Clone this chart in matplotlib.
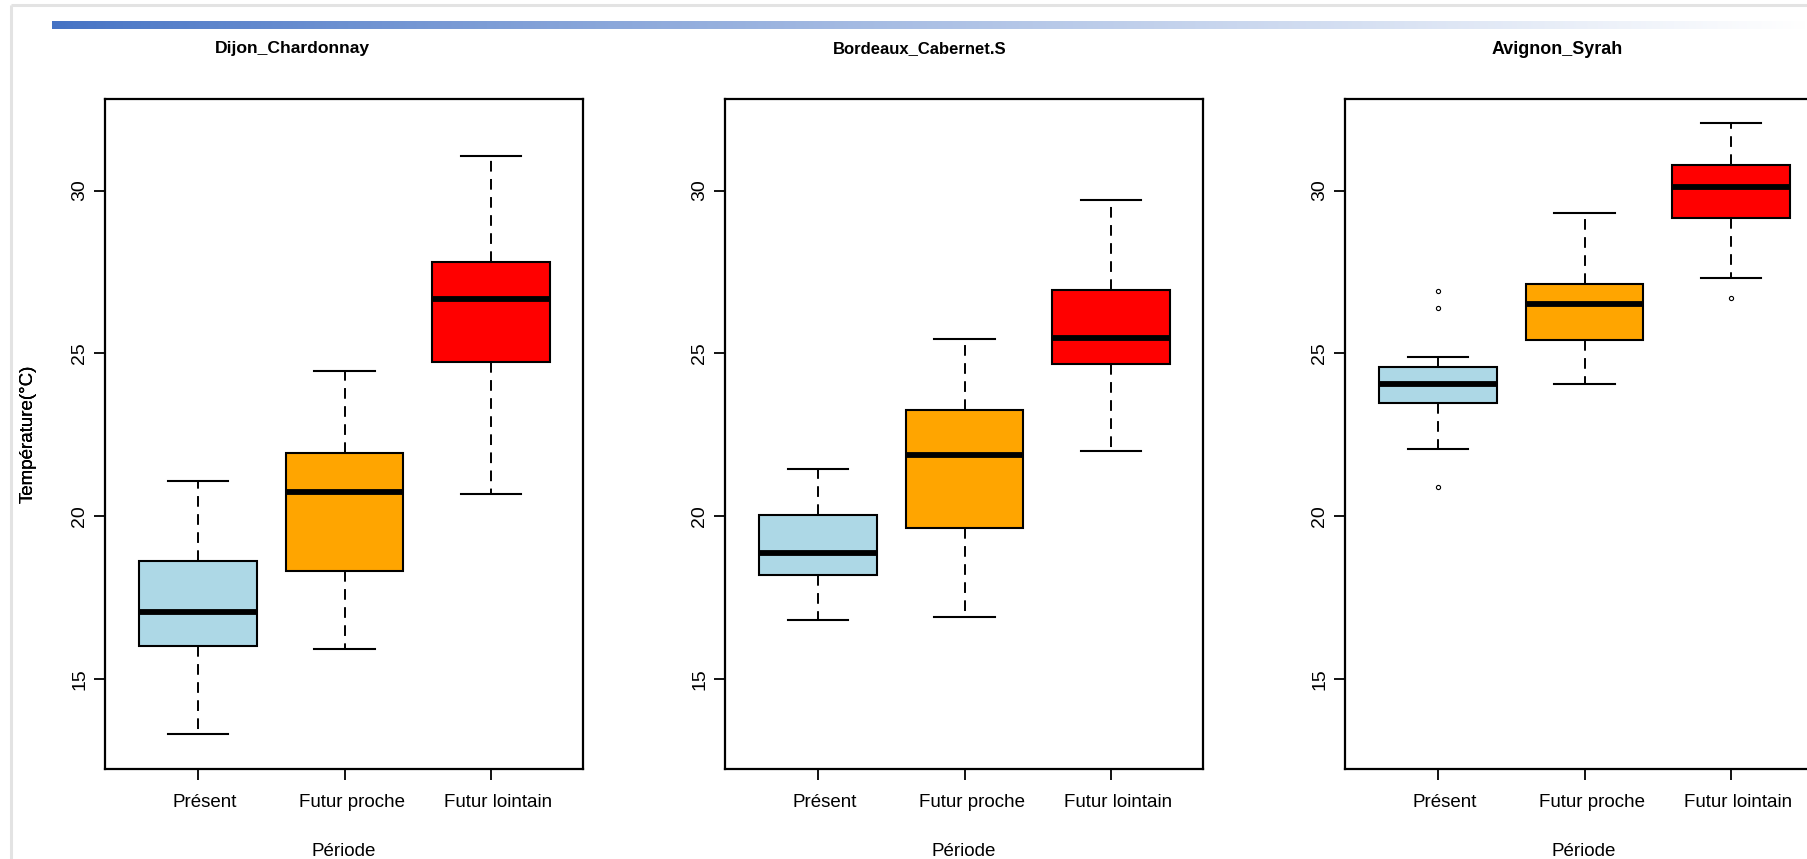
import numpy as np
import matplotlib
matplotlib.use("Agg")
import matplotlib.pyplot as plt
from matplotlib import font_manager
from matplotlib.transforms import ScaledTranslation

# ---------------- data ----------------
periods = ["Présent", "Futur proche", "Futur lointain"]
sites = ["Dijon_Chardonnay", "Bordeaux_Cabernet.S", "Avignon_Syrah"]

dijon_whislo = [13.30, 15.92, 20.69]
dijon_q1 = [16.03, 18.32, 24.73]
dijon_med = [17.07, 20.73, 26.66]
dijon_q3 = [18.64, 21.95, 27.80]
dijon_whishi = [21.07, 24.46, 31.05]
dijon_fliers = [[], [], []]

bordeaux_whislo = [16.81, 16.90, 22.00]
bordeaux_q1 = [18.21, 19.63, 24.66]
bordeaux_med = [18.88, 21.88, 25.47]
bordeaux_q3 = [20.03, 23.25, 26.94]
bordeaux_whishi = [21.45, 25.45, 29.71]
bordeaux_fliers = [[], [], []]

avignon_whislo = [22.06, 24.05, 27.30]
avignon_q1 = [23.48, 25.40, 29.16]
avignon_med = [24.05, 26.52, 30.12]
avignon_q3 = [24.59, 27.12, 30.77]
avignon_whishi = [24.88, 29.31, 32.07]
avignon_fliers = [[26.92, 26.40, 20.90], [], [26.69]]

box_colors = ["#ADD8E6", "#FFA500", "#FF0000"]
y_ticks = [15, 20, 25, 30]
y_label = "Température(°C)"
x_label = "Période"

site_data = [
    (dijon_whislo, dijon_q1, dijon_med, dijon_q3, dijon_whishi, dijon_fliers),
    (bordeaux_whislo, bordeaux_q1, bordeaux_med, bordeaux_q3, bordeaux_whishi, bordeaux_fliers),
    (avignon_whislo, avignon_q1, avignon_med, avignon_q3, avignon_whishi, avignon_fliers),
]

# ---------------- fonts ----------------
avail = {f.name for f in font_manager.fontManager.ttflist}
base_font = "Liberation Sans" if "Liberation Sans" in avail else "DejaVu Sans"
title_font = "Liberation Sans Narrow" if "Liberation Sans Narrow" in avail else base_font
plt.rcParams["font.family"] = [base_font, "DejaVu Sans"]

W, H = 1807, 859
fig = plt.figure(figsize=(W / 100, H / 100), dpi=100)
fig.patch.set_facecolor("white")

# ---- page decorations (background axes in pixel coords) ----
bg = fig.add_axes([0, 0, 1, 1], zorder=-10)
bg.axis("off")
bg.plot([11, W], [5, 5], color="#E3E3E3", lw=2.2, solid_capstyle="butt")
bg.plot([11, 11], [5, H], color="#E3E3E3", lw=2.2, solid_capstyle="butt")
n = 512
t = np.linspace(0, 1, n)
c0 = np.array([68, 114, 196]) / 255.0
c1 = np.array([255, 255, 255]) / 255.0
tt = np.clip(t ** 0.85, 0, 1)
grad = (c0[None, :] * (1 - tt[:, None]) + c1[None, :] * tt[:, None])[None, :, :]
bg.imshow(grad, extent=[52, W, 29, 21], aspect="auto", interpolation="bilinear")
bg.set_xlim(0, W)
bg.set_ylim(H, 0)

# ---- panels ----
ax_left_px = [105, 725, 1345]
ax_w_px = 478
ax_top_px, ax_bot_px = 99, 769
title_cx = [292, 920, 1557]
title_w_px = [156, 174, 131]

renderer = fig.canvas.get_renderer()

for i, (wl, q1, md, q3, wh, fl) in enumerate(site_data):
    left = ax_left_px[i] / W
    bottom = (H - ax_bot_px) / H
    ax = fig.add_axes([left, bottom, ax_w_px / W, (ax_bot_px - ax_top_px) / H])
    stats = []
    for k in range(len(periods)):
        stats.append(dict(med=md[k], q1=q1[k], q3=q3[k], whislo=wl[k],
                          whishi=wh[k], fliers=fl[k], label=periods[k]))
    bp = ax.bxp(stats, positions=[1, 2, 3], widths=0.8, patch_artist=True,
                showfliers=True, capwidths=0.41,
                boxprops=dict(edgecolor="black", linewidth=1.5),
                medianprops=dict(color="black", linewidth=4.2, solid_capstyle="butt"),
                whiskerprops=dict(color="black", linewidth=1.4, linestyle=(0, (5.5, 3.8))),
                capprops=dict(color="black", linewidth=1.5),
                flierprops=dict(marker="o", markersize=3.0, markerfacecolor="none",
                                markeredgecolor="black", markeredgewidth=0.8))
    for patch, col in zip(bp["boxes"], box_colors):
        patch.set_facecolor(col)

    ax.set_xlim(0.365, 3.628)
    ax.set_ylim(12.24, 32.81)
    ax.set_yticks(y_ticks)
    ax.set_yticklabels([str(v) for v in y_ticks], rotation=90, va="center", fontsize=14)
    ax.set_xticks([1, 2, 3])
    ax.set_xticklabels(periods, fontsize=13.5)
    ax.tick_params(axis="both", direction="out", length=8, width=1.3, color="black")
    ax.tick_params(axis="y", pad=4)
    ax.tick_params(axis="x", pad=10)
    off = ScaledTranslation(7 / 100, 0, fig.dpi_scale_trans)
    for lab in ax.get_xticklabels():
        lab.set_transform(lab.get_transform() + off)
    for sp in ax.spines.values():
        sp.set_linewidth(1.6)
        sp.set_color("black")

    ax.set_ylabel(y_label, fontsize=13.5)
    ax.yaxis.set_label_coords((28 - ax_left_px[i]) / ax_w_px, 0.5)
    ax.yaxis.label.set_va("center")
    ax.set_xlabel(x_label, fontsize=13.5)
    ax.xaxis.set_label_coords(0.5, (ax_bot_px - 851) / (ax_bot_px - ax_top_px))
    ax.xaxis.label.set_va("center")

    tx = fig.text(title_cx[i] / W, (H - 49) / H, sites[i], ha="center", va="center",
                  fontsize=14, fontweight="bold", family=[title_font, "DejaVu Sans"])
    # fit the title width to the reference width
    wpx = tx.get_window_extent(renderer=renderer).width
    if wpx > 0:
        tx.set_fontsize(14 * title_w_px[i] / wpx)

fig.savefig("out.png", dpi=100, facecolor="white")
